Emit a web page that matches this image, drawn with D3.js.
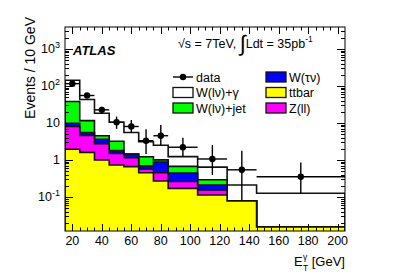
<!DOCTYPE html>
<html><head><meta charset="utf-8">
<script src="https://cdn.jsdelivr.net/npm/d3@7"></script>
<style>body{margin:0;background:#fff}svg{display:block}text{font-family:"Liberation Sans",Arial,Helvetica,sans-serif}</style>
</head><body>
<svg id="c" width="407" height="276"></svg>
<script>
// ---- data ----
const binLo = [15,25,35,45,55,65,75,85,105,125,145];
const binHi = [25,35,45,55,65,75,85,105,125,145,205];
const dataX = [20,30,40,50,60,70,80,95,115,135,175];
const dataY = [115,55,22.5,10.4,8.0,3.3,4.5,2.2,1.06,0.54,0.35];
const dataErrLo = [105,48,18,6.9,5.4,1.45,2.5,1.23,0.39,0.083,0.126];
const dataErrHi = [126,62,27.5,14.8,12.0,6.7,8.8,4.0,2.54,1.78,0.85];
const ttbar  = [1.94,1.6,1.0,0.73,0.66,0.45,0.27,0.17,0.113,0.078,0.0155];
const zll    = [6.06,3.0,1.75,0.77,0.49,0.11,0.18,0.09,0.042,0,0];
const wtaunu = [1.8,0.9,0.85,0.28,0.3,0.13,0.43,0.18,0.055,0,0];
const wjet   = [27.9,6.0,0.9,1.42,0,0.53,0.12,0.23,0.08,0,0];
const wgamma = [104.3,31.5,13.8,7.2,4.05,1.88,1.5,0.56,0.35,0.132,0.11];
const xTicks = [20,40,60,80,100,120,140,160,180,200];
const yTicks = [0.1,1,10,100,1000];
const yTickLabels = [["10","-1"],["1",""],["10",""],["10","2"],["10","3"]];
const seriesNames = ["ttbar","Z(ll)","W(τν)","W(lν)+jet","W(lν)+γ"];
const seriesColors = ["#ffff00","#ff00ff","#0000ff","#00ff00","#ffffff"];
const seriesVals = [ttbar,zll,wtaunu,wjet,wgamma];

// ---- layout ----
const L=65,R=345,T=27,B=231;
const svg=d3.select("#c");
const x=d3.scaleLinear().domain([15,205]).range([L,R]);
const y=d3.scaleLog().domain([0.012,3900]).range([B,T]).clamp(true);

svg.append("defs").append("clipPath").attr("id","clip")
  .append("rect").attr("x",L).attr("y",T).attr("width",R-L).attr("height",B-T);
const g=svg.append("g").attr("clip-path","url(#clip)");

// stack
const rows=binLo.map((lo,i)=>{const o={i};seriesNames.forEach((n,k)=>o[n]=seriesVals[k][i]);return o;});
const stack=d3.stack().keys(seriesNames)(rows);
const layers=stack.slice().reverse();
layers.forEach((layer)=>{
  const k=seriesNames.indexOf(layer.key);
  const pts=[];
  layer.forEach((d,i)=>{const v=Math.max(d[1],1e-4);pts.push([x(binLo[i]),y(v)],[x(binHi[i]),y(v)]);});
  const area=d3.area().x(d=>d[0]).y0(B+2).y1(d=>d[1]);
  g.append("path").attr("d",area(pts)).attr("fill",seriesColors[k]).attr("stroke","none");
  const line=d3.line();
  const lp=[[pts[0][0],B+2],...pts,[pts[pts.length-1][0],B+2]];
  g.append("path").attr("d",line(lp)).attr("fill","none").attr("stroke","#111").attr("stroke-width",1.6);
});

// data
const dg=g.append("g");
dataX.forEach((xv,i)=>{
  dg.append("line").attr("x1",x(binLo[i])).attr("x2",x(binHi[i])).attr("y1",y(dataY[i])).attr("y2",y(dataY[i]))
    .attr("stroke","#000").attr("stroke-width",1.4);
  dg.append("line").attr("x1",x(xv)).attr("x2",x(xv)).attr("y1",y(dataErrLo[i])).attr("y2",y(dataErrHi[i]))
    .attr("stroke","#000").attr("stroke-width",1.4);
  dg.append("circle").attr("cx",x(xv)).attr("cy",y(dataY[i])).attr("r",3.2).attr("fill","#000");
});

// frame
svg.append("rect").attr("x",L).attr("y",T).attr("width",R-L).attr("height",B-T)
  .attr("fill","none").attr("stroke","#000").attr("stroke-width",1);

// x ticks (bottom and top)
const ax=svg.append("g").attr("stroke","#000").attr("stroke-width",1);
for(let v=20;v<205;v+=5){
  const major=xTicks.includes(v);
  const len=major?7:3.5;
  const px=Math.round(x(v))+0.5;
  ax.append("line").attr("x1",px).attr("x2",px).attr("y1",B).attr("y2",B-len);
  ax.append("line").attr("x1",px).attr("x2",px).attr("y1",T).attr("y2",T+len);
}
// y ticks (left and right)
for(let e=-2;e<=3;e++){
  for(let m=1;m<=9;m++){
    const v=m*Math.pow(10,e);
    if(v<0.012||v>3900) continue;
    const len=m===1?8:4;
    const py=Math.round(y(v))+0.5;
    ax.append("line").attr("x1",L).attr("x2",L+len).attr("y1",py).attr("y2",py);
    ax.append("line").attr("x1",R).attr("x2",R-len).attr("y1",py).attr("y2",py);
  }
}
// x tick labels
svg.append("g").selectAll("text").data(xTicks).join("text")
  .attr("x",d=>x(d)).attr("y",245).attr("text-anchor","middle").attr("font-size",12.5).text(d=>d);
// y tick labels
yTicks.forEach((v,i)=>{
  const t=svg.append("text").attr("x",60).attr("y",y(v)+4.5).attr("text-anchor","end").attr("font-size",12.5);
  t.append("tspan").text(yTickLabels[i][0]);
  if(yTickLabels[i][1]) t.append("tspan").attr("dy",-5.5).attr("font-size",9).text(yTickLabels[i][1]);
});
// axis titles
svg.append("text").attr("transform","translate(35,17) rotate(-90)").attr("text-anchor","end")
  .attr("font-size",14).text("Events / 10 GeV");
svg.append("text").attr("x",294).attr("y",266).attr("font-size",13).text("E");
svg.append("text").attr("x",303).attr("y",260).attr("font-size",8.5).text("γ");
svg.append("text").attr("x",303).attr("y",271).attr("font-size",8.5).text("T");
svg.append("text").attr("x",345).attr("y",266).attr("text-anchor","end").attr("font-size",13).text("[GeV]");

// ATLAS
svg.append("text").attr("x",73).attr("y",55).attr("font-size",13).attr("font-weight","bold")
  .attr("font-style","italic").text("ATLAS");
// energy/lumi
const lt=svg.append("text").attr("x",178).attr("y",48).attr("font-size",12.5);
lt.append("tspan").text("√s = 7TeV, ");
lt.append("tspan").attr("font-size",22).attr("dy",3).text("∫");
lt.append("tspan").attr("dy",-3).text("Ldt = 35pb");
lt.append("tspan").attr("dy",-6).attr("font-size",8.5).text("-1");

// legend
const legLeft=[{n:"data",t:"data"},{n:"W(lν)+γ",c:"#ffffff"},{n:"W(lν)+jet",c:"#00ff00"}];
const legRight=[{n:"W(τν)",c:"#0000ff"},{n:"ttbar",c:"#ffff00"},{n:"Z(ll)",c:"#ff00ff"}];
const rowsY=[77,92.5,108];
function legend(items,bx){
  items.forEach((it,i)=>{
    const cy=rowsY[i];
    if(it.t==="data"){
      svg.append("line").attr("x1",bx).attr("x2",bx+20).attr("y1",cy).attr("y2",cy).attr("stroke","#000").attr("stroke-width",1.4);
      svg.append("circle").attr("cx",bx+10).attr("cy",cy).attr("r",3.2).attr("fill","#000");
    } else {
      svg.append("rect").attr("x",bx).attr("y",cy-5).attr("width",20).attr("height",10)
        .attr("fill",it.c).attr("stroke","#111").attr("stroke-width",1.3);
    }
    svg.append("text").attr("x",bx+23).attr("y",cy+4.5).attr("font-size",12.5).text(it.n);
  });
}
legend(legLeft,173);
legend(legRight,266);
</script>
</body></html>
